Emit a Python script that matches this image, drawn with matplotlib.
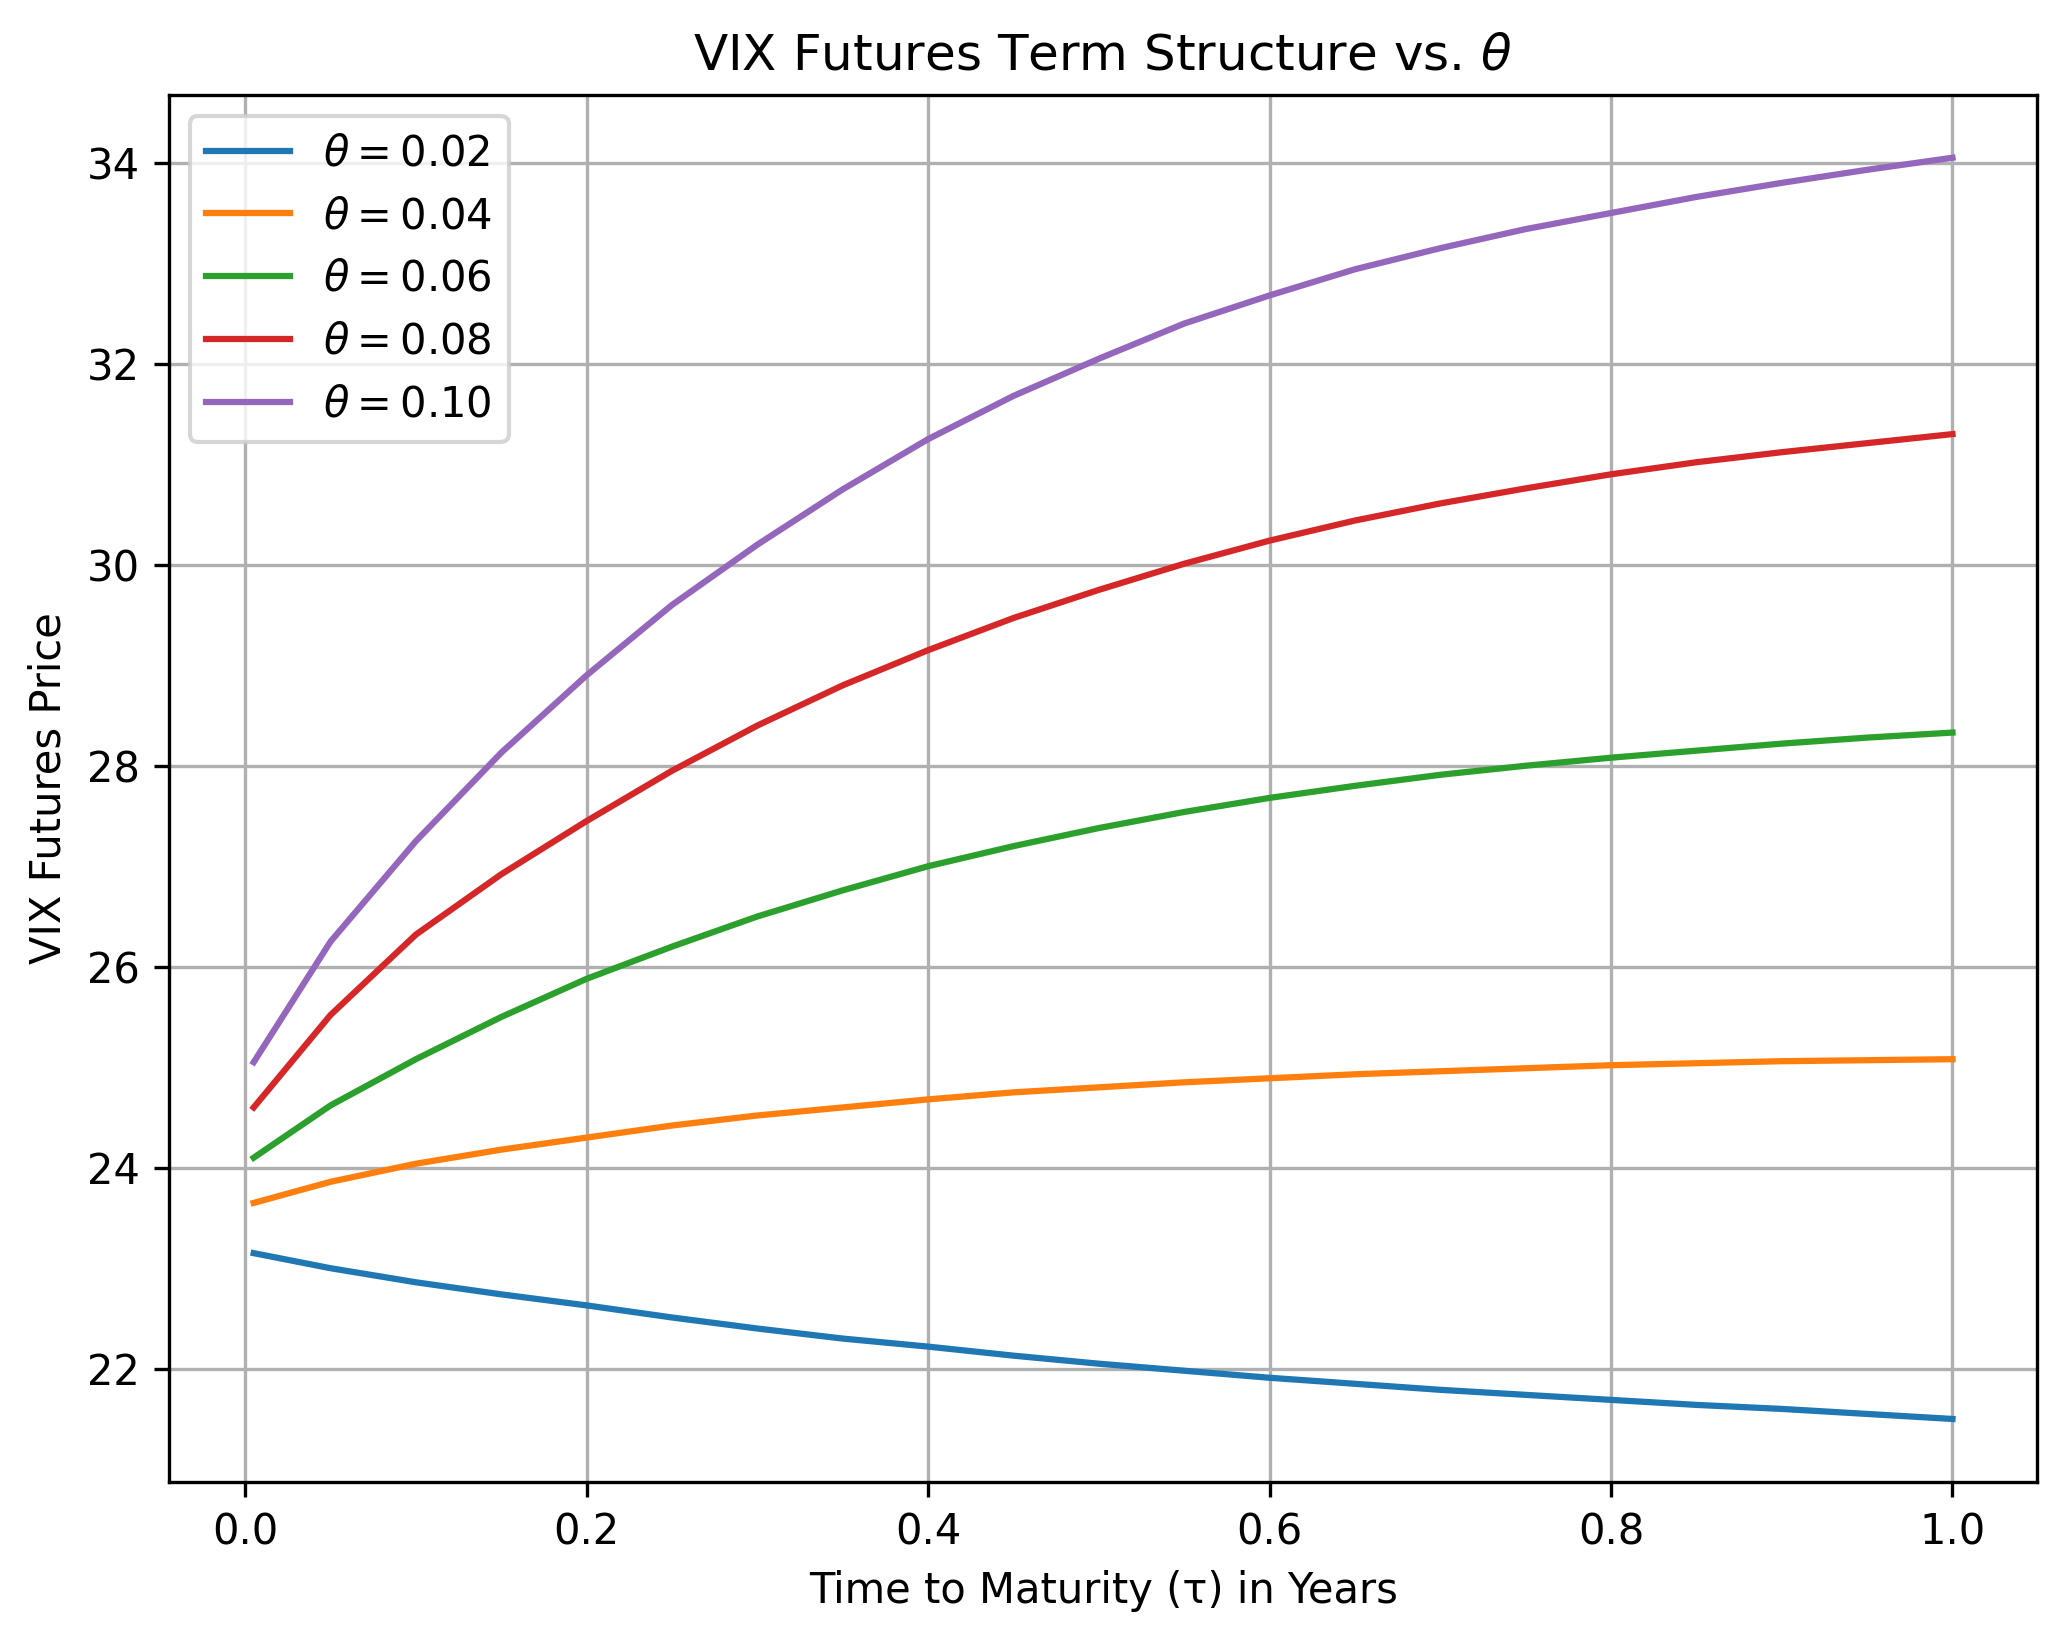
import matplotlib
matplotlib.use("Agg")
import matplotlib.pyplot as plt

tau = [0.005, 0.05, 0.1, 0.15, 0.2, 0.25, 0.3, 0.35, 0.4, 0.45, 0.5,
       0.55, 0.6, 0.65, 0.7, 0.75, 0.8, 0.85, 0.9, 0.95, 1.0]

theta_labels = ["0.02", "0.04", "0.06", "0.08", "0.10"]

f_002 = [23.15, 23.0, 22.86, 22.74, 22.63, 22.51, 22.4, 22.3, 22.22, 22.13, 22.05,
         21.98, 21.91, 21.85, 21.79, 21.74, 21.69, 21.64, 21.6, 21.55, 21.5]
f_004 = [23.65, 23.86, 24.04, 24.18, 24.3, 24.42, 24.52, 24.6, 24.68, 24.75, 24.8,
         24.85, 24.89, 24.93, 24.96, 24.99, 25.02, 25.04, 25.06, 25.07, 25.08]
f_006 = [24.1, 24.62, 25.08, 25.5, 25.88, 26.2, 26.5, 26.76, 27.0, 27.2, 27.38,
         27.54, 27.68, 27.8, 27.91, 28.0, 28.08, 28.15, 28.22, 28.28, 28.33]
f_008 = [24.6, 25.52, 26.32, 26.92, 27.45, 27.95, 28.4, 28.8, 29.15, 29.47, 29.75,
         30.01, 30.24, 30.44, 30.61, 30.76, 30.9, 31.02, 31.12, 31.21, 31.3]
f_010 = [25.05, 26.25, 27.25, 28.13, 28.9, 29.6, 30.2, 30.75, 31.25, 31.68, 32.05,
         32.4, 32.68, 32.94, 33.15, 33.34, 33.5, 33.66, 33.8, 33.93, 34.05]

series = [f_002, f_004, f_006, f_008, f_010]

fig, ax = plt.subplots(figsize=(6.86, 5.447), dpi=300)
for lab, vals in zip(theta_labels, series):
    ax.plot(tau, vals, label=rf"$\theta = {lab}$")

ax.set_title(r"VIX Futures Term Structure vs. $\theta$")
ax.set_xlabel("Time to Maturity (τ) in Years")
ax.set_ylabel("VIX Futures Price")
ax.grid(True)
ax.legend(loc="upper left")
fig.subplots_adjust(left=0.082, right=0.99, top=0.942, bottom=0.093)
fig.savefig("out.png")
